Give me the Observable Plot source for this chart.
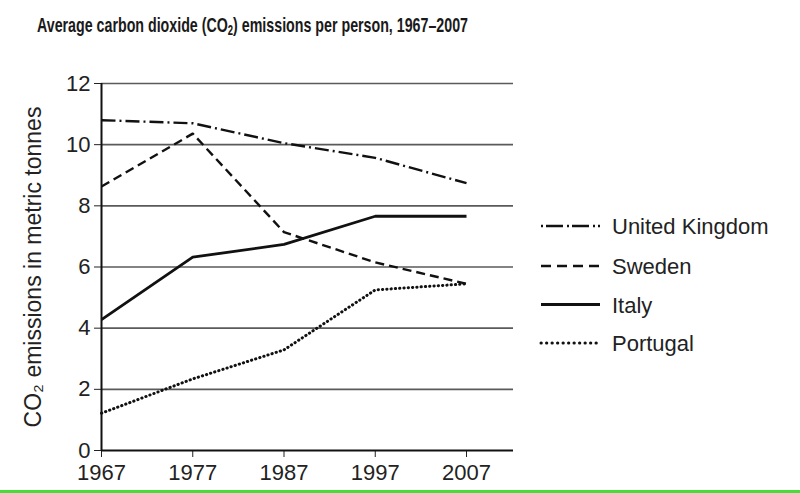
<!DOCTYPE html>
<html>
<head>
<meta charset="utf-8">
<script src="https://cdn.jsdelivr.net/npm/d3@7"></script>
<script src="https://cdn.jsdelivr.net/npm/@observablehq/plot@0.6"></script>
<style>
  html, body { margin: 0; padding: 0; background: #fff; }
  body { width: 800px; height: 493px; overflow: hidden; font-family: "Liberation Sans", Arial, sans-serif; }
  #wrap { position: relative; width: 800px; height: 493px; }
  #titlebar { position: relative; width: 800px; height: 55px; }
  #title { position: absolute; left: 37px; top: 14px; white-space: nowrap; font-weight: bold; font-size: 21px; line-height: 22px; color: #1a1a1a; transform-origin: 0 0; }
  #title sub { font-size: 14px; vertical-align: -3px; line-height: 0; }
  #legend { position: absolute; left: 0; top: 0; pointer-events: none; }
  #green { position: absolute; left: 0; top: 490px; width: 800px; height: 3px; background: #45de36; }
</style>
</head>
<body>
<div id="wrap">
  <div id="titlebar"><span id="title">Average carbon dioxide (CO<sub>2</sub>) emissions per person, 1967–2007</span></div>
  <div id="chart"></div>
  <div id="green"></div>
</div>
<script>
// ---- data ----
const years = [1967, 1977, 1987, 1997, 2007];
const yTicks = [0, 2, 4, 6, 8, 10, 12];
const seriesNames = ["United Kingdom", "Sweden", "Italy", "Portugal"];
const ukValues = [10.8, 10.7, 10.05, 9.57, 8.74];
const swedenValues = [8.63, 10.36, 7.14, 6.15, 5.45];
const italyValues = [4.28, 6.32, 6.74, 7.66, 7.66];
const portugalValues = [1.22, 2.34, 3.29, 5.25, 5.45];
const yLabel = "CO₂ emissions in metric tonnes";

// squeeze title to the reference's condensed width
const titleEl = document.getElementById("title");
const tw = titleEl.getBoundingClientRect().width;
titleEl.style.transform = `scaleX(${431 / tw})`;

const toRows = (vals) => years.map((year, i) => ({year, value: vals[i]}));
const styles = [
  {name: seriesNames[0], rows: toRows(ukValues), dash: "14,4,2,4", width: 2.4, cap: "butt", legendDash: "2,3,17,4"},
  {name: seriesNames[1], rows: toRows(swedenValues), dash: "9,5", width: 2.4, cap: "butt", legendDash: "10,6"},
  {name: seriesNames[2], rows: toRows(italyValues), dash: null, width: 2.8, cap: "butt", legendDash: null},
  {name: seriesNames[3], rows: toRows(portugalValues), dash: "0.3,4", width: 3, cap: "round", legendDash: "0.3,5.2"}
];

const lineMarks = styles.map(s => Plot.line(s.rows, {
  x: "year", y: "value", stroke: "#111", strokeWidth: s.width,
  strokeDasharray: s.dash || undefined, strokeLinecap: s.cap, strokeLinejoin: "round"
}));

const chart = Plot.plot({
  width: 800,
  height: 435,
  marginLeft: 101,
  marginRight: 287,
  marginTop: 28,
  marginBottom: 40,
  style: {fontSize: "22px", fontFamily: "Liberation Sans, Arial, sans-serif", color: "#222", background: "transparent", overflow: "visible"},
  x: {domain: [1967, 2012.15], ticks: years, tickFormat: d => String(d), tickSize: 7, tickPadding: 7, label: null},
  y: {domain: [0, 12], ticks: yTicks, tickSize: 7, tickPadding: 4, label: null},
  marks: [
    Plot.ruleY(yTicks.filter(v => v > 0), {stroke: "#5a5a5a", strokeWidth: 1.6}),
    Plot.ruleY([0], {stroke: "#111", strokeWidth: 2}),
    Plot.ruleX([1967], {stroke: "#111", strokeWidth: 2}),
    ...lineMarks,
    Plot.text([yLabel], {text: d => d, frameAnchor: "left", textAnchor: "middle", lineAnchor: "middle", dx: -68, rotate: -90, fontSize: 23, fill: "#222"})
  ]
});
document.getElementById("chart").appendChild(chart);

// ---- legend ----
const legendRows = [226, 266, 304.5, 343];
const ns = "http://www.w3.org/2000/svg";
const lg = document.createElementNS(ns, "svg");
lg.setAttribute("id", "legend");
lg.setAttribute("width", 800);
lg.setAttribute("height", 493);
styles.forEach((s, i) => {
  const y = legendRows[i];
  const ln = document.createElementNS(ns, "line");
  ln.setAttribute("x1", 541); ln.setAttribute("x2", 600);
  ln.setAttribute("y1", y); ln.setAttribute("y2", y);
  ln.setAttribute("stroke", "#111");
  ln.setAttribute("stroke-width", s.width);
  ln.setAttribute("stroke-linecap", s.cap);
  if (s.legendDash) ln.setAttribute("stroke-dasharray", s.legendDash);
  lg.appendChild(ln);
  const t = document.createElementNS(ns, "text");
  t.setAttribute("x", 612); t.setAttribute("y", y + 8);
  t.setAttribute("font-size", 22);
  t.setAttribute("font-family", "Liberation Sans, Arial, sans-serif");
  t.setAttribute("fill", "#222");
  t.textContent = s.name;
  lg.appendChild(t);
});
document.getElementById("wrap").appendChild(lg);
</script>
</body>
</html>
